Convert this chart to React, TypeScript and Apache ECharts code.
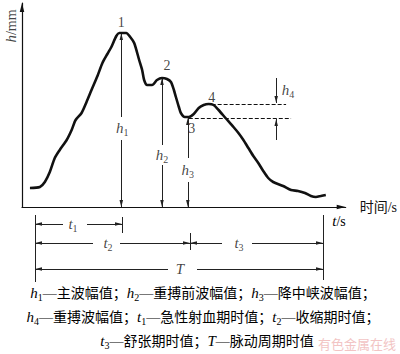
import React, { useEffect, useRef } from "react";
import * as echarts from "echarts";

// ---- data (x: time units from origin, y: amplitude units from baseline) ----
const CURVE_X = [8, 18, 23, 28, 33, 38, 45, 50, 54, 60, 65, 70, 76, 81, 86, 90, 95, 98, 105, 109, 113, 118, 121, 123, 126, 131, 136, 141, 146, 150, 153, 155, 158, 160, 164, 168, 173, 178, 183, 188, 193, 198, 205, 213, 218, 223, 228, 233, 238, 243, 248, 253, 263, 271, 278, 285, 291, 296, 301, 306];
const CURVE_Y = [19, 20, 25, 35, 49, 57, 67, 77, 87, 94, 105, 117, 131, 144, 153, 160, 171, 174, 174, 170, 164, 147, 137, 127, 122, 122, 127, 129, 128, 125, 117, 110, 100, 94, 90, 90, 93, 99, 102, 103, 102, 97, 89, 80, 74, 67, 59, 51, 44, 36, 29, 25, 21, 17, 16, 14, 11, 10, 11, 12];

const POINT_NAMES = ["1", "2", "3", "4"];
const POINT_X = [100, 146, 171, 191];
const POINT_Y = [185, 142, 79, 110];

const H_SUBS = ["1", "2", "3", "4"];
const H_X = [100, 141, 167, 256];
const H_LABEL_X = [101, 141, 167, 268];
const H_LABEL_Y = [79, 52, 37, 117];
const H_UPPER = [[90, 174], [62, 129], [49, 89], [129, 104]];
const H_LOWER = [[67, 0], [42, 0], [25, 0], [67, 88]];
const LEVEL_4 = 103;
const LEVEL_3 = 89;
const DASH4_X = [191, 266];
const DASH3_X = [168, 271];

const T_START = 13;
const T1_END = 100;
const T2_END = 168;
const T_END = 301;
const ROW_T1 = 61, ROW_T2 = 42, ROW_T = 16;
const TIME_NAMES = [["t", "1"], ["t", "2"], ["t", "3"], ["T", ""]];
const TIME_LABEL_X = [51, 86, 217, 158];
const TIME_LABEL_Y = [ROW_T1, ROW_T2, ROW_T2, ROW_T];
const TIME_ARROWS = [
  [41, T_START, ROW_T1], [65, T1_END, ROW_T1],
  [71, T_START, ROW_T2], [98, T2_END, ROW_T2],
  [200, T2_END, ROW_T2], [230, T_END, ROW_T2],
  [146, T_START, ROW_T], [175, T_END, ROW_T],
];

const CAPTION_LINES = [
  [["h", "1", "主波幅值"], ["h", "2", "重搏前波幅值"], ["h", "3", "降中峡波幅值"]],
  [["h", "4", "重搏波幅值"], ["t", "1", "急性射血期时值"], ["t", "2", "收缩期时值"]],
  [["t", "3", "舒张期时值"], ["T", "", "脉动周期时值"]],
];
const CAPTION_END = ["；", "；", ""];

const X_NAME = "时间/s";
const Y_NAME_ITALIC = "h";
const Y_NAME_REST = "/mm";
const Y_NAME_POS = [-11, 181];
const WATERMARK = "有色金属在线";

const SERIF = "'Liberation Serif','Times New Roman',serif";
const CJK = "'Liberation Serif','Noto Sans CJK SC',serif";
const INK = "#111";
const ARROW = "path://M-10,-10 M10,10 M0,0 L-2.5,10 L2.5,10 Z";

const rich = {
  i: { fontFamily: SERIF, fontStyle: "italic", fontSize: 15, lineHeight: 18, color: INK },
  s: { fontFamily: SERIF, fontSize: 10, lineHeight: 10, verticalAlign: "bottom", color: INK },
  n: { fontFamily: CJK, fontSize: 14, lineHeight: 18, color: INK },
  d: { fontFamily: SERIF, fontSize: 14, lineHeight: 18, color: INK },
};

function sym(name: string, sub: string) {
  return sub ? `{i|${name}}{s|${sub}}` : `{i|${name}}`;
}

export default function App() {
  const ref = useRef<HTMLDivElement>(null);
  useEffect(() => {
    if (!ref.current) return;
    const chart = echarts.init(ref.current, null, { renderer: "svg" });

    const curve = CURVE_X.map((x, i) => [x, CURVE_Y[i]]);
    const hArrows: any[] = [];
    H_X.forEach((x, i) => {
      hArrows.push({ coords: [[x, H_UPPER[i][0]], [x, H_UPPER[i][1]]] });
      hArrows.push({ coords: [[x, H_LOWER[i][0]], [x, H_LOWER[i][1]]] });
    });
    const dashed = [
      { coords: [[DASH4_X[0], LEVEL_4], [DASH4_X[1], LEVEL_4]] },
      { coords: [[DASH3_X[0], LEVEL_3], [DASH3_X[1], LEVEL_3]] },
    ];
    const topLabels: any[] = [];
    POINT_NAMES.forEach((n, i) =>
      topLabels.push({ value: [POINT_X[i], POINT_Y[i]], label: { formatter: `{d|${n}}` } })
    );
    H_SUBS.forEach((s, i) =>
      topLabels.push({ value: [H_LABEL_X[i], H_LABEL_Y[i]], label: { formatter: sym("h", s) } })
    );

    const timeArrows = TIME_ARROWS.map(([a, b, y]) => ({ coords: [[a, y], [b, y]] }));
    const timeTicks = [
      { coords: [[T_START, 70], [T_START, 3]] },
      { coords: [[T_END, 70], [T_END, 5]] },
      { coords: [[T1_END, 68], [T1_END, 52]] },
      { coords: [[T2_END, 52], [T2_END, 35]] },
    ];
    const timeLabels = TIME_NAMES.map(([n, s], i) => ({
      value: [TIME_LABEL_X[i], TIME_LABEL_Y[i]],
      label: { formatter: sym(n, s) },
    }));

    const captionTexts = CAPTION_LINES.map((line, li) =>
      line.map(([n, s, d]) => `${sym(n, s)}{n|—${d}}`).join("{n|；}") + (CAPTION_END[li] ? `{n|${CAPTION_END[li]}}` : "")
    );
    const captionY = [293, 317, 341];
    const captionX = [203, 203, 207];

    const hidden = {
      axisLine: { show: false }, axisTick: { show: false },
      axisLabel: { show: false }, splitLine: { show: false },
    };

    chart.setOption({
      animation: false,
      grid: [
        { left: 22, right: 52, top: 3, bottom: 147 },
        { left: 22, right: 52, top: 210, height: 75 },
      ],
      xAxis: [
        {
          type: "value", gridIndex: 0, min: 0, max: 326,
          axisLine: { show: true, lineStyle: { color: INK, width: 1.2 }, symbol: ["none", ARROW], symbolSize: [18, 18] },
          axisTick: { show: false }, axisLabel: { show: false }, splitLine: { show: false },
          name: X_NAME, nameLocation: "end", nameGap: 14,
          nameTextStyle: { fontFamily: CJK, fontSize: 14, color: INK, verticalAlign: "middle" },
        },
        { type: "value", gridIndex: 1, min: 0, max: 326, ...hidden },
      ],
      yAxis: [
        {
          type: "value", gridIndex: 0, min: 0, max: 204,
          axisLine: { show: true, lineStyle: { color: INK, width: 1.2 }, symbol: ["none", ARROW], symbolSize: [18, 18] },
          axisTick: { show: false }, axisLabel: { show: false }, splitLine: { show: false },
        },
        { type: "value", gridIndex: 1, min: 0, max: 75, ...hidden },
      ],
      series: [
        {
          type: "line", xAxisIndex: 0, yAxisIndex: 0, data: curve, showSymbol: false,
          smooth: 0.25, lineStyle: { color: INK, width: 2.6 }, silent: true,
        },
        {
          type: "lines", coordinateSystem: "cartesian2d", xAxisIndex: 0, yAxisIndex: 0,
          data: hArrows, symbol: ["none", ARROW], symbolSize: 14,
          lineStyle: { color: "#222", width: 1, opacity: 1 }, silent: true,
        },
        {
          type: "lines", coordinateSystem: "cartesian2d", xAxisIndex: 0, yAxisIndex: 0,
          data: dashed, symbol: ["none", "none"],
          lineStyle: { color: INK, width: 1.2, opacity: 1, type: [4, 2] }, silent: true,
        },
        {
          type: "scatter", xAxisIndex: 0, yAxisIndex: 0, data: topLabels, symbolSize: 0, silent: true,
          label: { show: true, position: "inside", rich },
        },
        {
          type: "scatter", xAxisIndex: 0, yAxisIndex: 0, symbolSize: 0, silent: true, clip: false,
          data: [{ value: Y_NAME_POS }],
          label: {
            show: true, position: "inside", rotate: 90, rich,
            formatter: `{i|${Y_NAME_ITALIC}}{d|${Y_NAME_REST}}`,
          },
        },
        {
          type: "lines", coordinateSystem: "cartesian2d", xAxisIndex: 1, yAxisIndex: 1,
          data: timeArrows, symbol: ["none", ARROW], symbolSize: 14,
          lineStyle: { color: "#222", width: 1, opacity: 1 }, silent: true,
        },
        {
          type: "lines", coordinateSystem: "cartesian2d", xAxisIndex: 1, yAxisIndex: 1,
          data: timeTicks, symbol: ["none", "none"],
          lineStyle: { color: "#222", width: 1, opacity: 1 }, silent: true,
        },
        {
          type: "scatter", xAxisIndex: 1, yAxisIndex: 1, data: timeLabels, symbolSize: 0, silent: true,
          label: { show: true, position: "inside", rich },
        },
      ],
      graphic: [
        {
          type: "text", x: 339, y: 221, silent: true,
          style: { text: `{i|t}{d|/s}`, rich, align: "center", verticalAlign: "middle" },
        },
        ...captionTexts.map((t, i) => ({
          type: "text", x: captionX[i], y: captionY[i], silent: true,
          style: { text: t, rich, align: "center", verticalAlign: "middle" },
        })),
        {
          type: "text", x: 318, y: 344, silent: true,
          style: {
            text: WATERMARK, fill: "#f2c4c4", fontSize: 13, fontFamily: CJK,
            align: "left", verticalAlign: "middle",
          },
        },
      ],
    });
    return () => chart.dispose();
  }, []);

  return (
    <div
      ref={ref}
      style={{ position: "fixed", left: 0, top: 0, width: 400, height: 354, background: "#fff" }}
    />
  );
}
